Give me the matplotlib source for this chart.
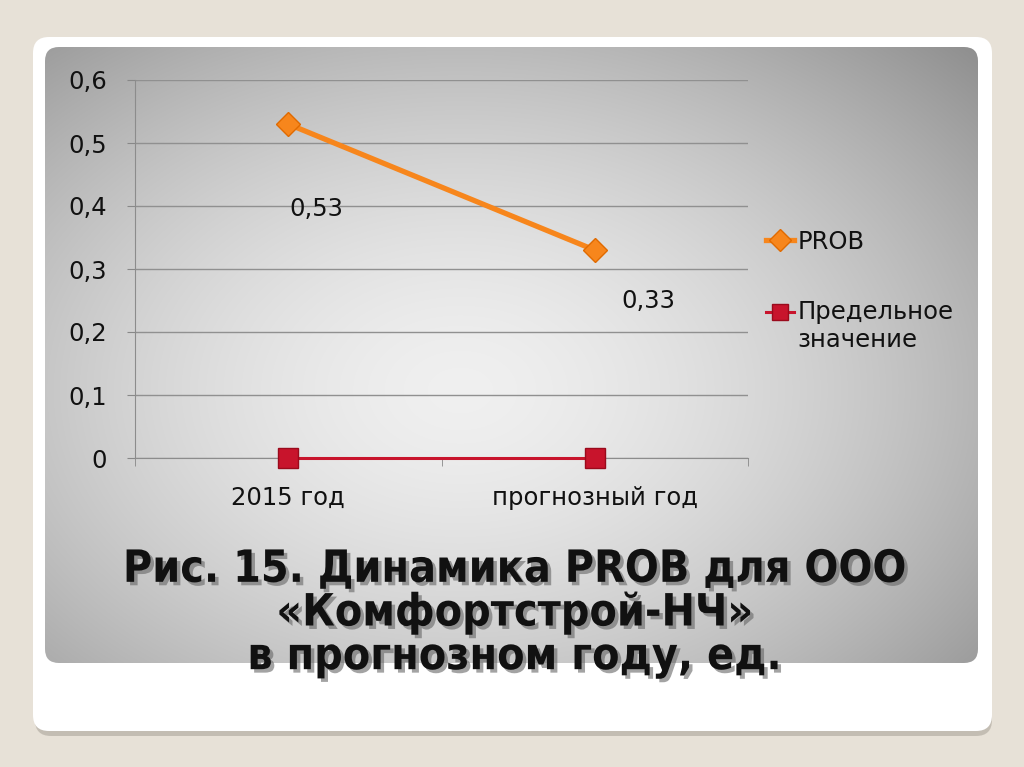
import numpy as np
import matplotlib
matplotlib.use('Agg')
import matplotlib.pyplot as plt
from matplotlib.patches import FancyBboxPatch
from matplotlib.lines import Line2D
import matplotlib.patheffects as pe

# ---------------------------------------------------------
# данные
# ---------------------------------------------------------
categories = ['2015 год', 'прогнозный год']
prob_values = [0.53, 0.33]
limit_values = [0.0, 0.0]
prob_labels = ['0,53', '0,33']
y_ticks = [0, 0.1, 0.2, 0.3, 0.4, 0.5, 0.6]
y_tick_labels = ['0', '0,1', '0,2', '0,3', '0,4', '0,5', '0,6']
series_names = ['PROB', 'Предельное\nзначение']
title_lines = 'Рис. 15. Динамика PROB для ООО\n«Комфортстрой-НЧ»\nв прогнозном году, ед.'

ORANGE = '#f7861c'
RED = '#c8142c'
W, H = 1024, 767

plt.rcParams['font.family'] = ['DejaVu Sans']

fig = plt.figure(figsize=(W / 100, H / 100), dpi=100)
fig.patch.set_facecolor('#e7e1d7')

# фон слайда в пикселях
bg = fig.add_axes([0, 0, 1, 1])
bg.set_xlim(0, W)
bg.set_ylim(H, 0)
bg.axis('off')

# тень и белая рамка
bg.add_patch(FancyBboxPatch((35, 41), 957, 695, boxstyle='round,pad=0,rounding_size=16',
                            fc='#b5afa5', ec='none', alpha=0.7))
bg.add_patch(FancyBboxPatch((33, 37), 959, 694, boxstyle='round,pad=0,rounding_size=16',
                            fc='white', ec='none'))

# серая панель с радиальным градиентом
yy, xx = np.mgrid[47:664, 45:978]
r = np.hypot((xx - 460) / 600.0, (yy - 390) / 420.0)
shade = np.clip(0.94 - 0.29 * r ** 1.6, 0, 1)
img = np.dstack([shade, shade, shade])
panel = FancyBboxPatch((45, 47), 933, 616, boxstyle='round,pad=0,rounding_size=14',
                       fc='none', ec='none')
bg.add_patch(panel)
im = bg.imshow(img, extent=(45, 978, 664, 47), interpolation='bilinear', zorder=1)
im.set_clip_path(panel)

# ---------------------------------------------------------
# график
# ---------------------------------------------------------
ax = fig.add_axes([135 / W, 1 - 458 / H, 613 / W, 378 / H])
ax.patch.set_alpha(0)
x = np.arange(len(categories))

ax.plot(x, prob_values, color=ORANGE, lw=3.8, marker='D', ms=12,
        mfc=ORANGE, mec='#e06a00', mew=1, zorder=4, solid_capstyle='round')
ax.plot(x, limit_values, color=RED, lw=2.2, marker='s', ms=15,
        mfc=RED, mec='#9a0a1c', mew=1, zorder=4, clip_on=False)

# подписи значений: первая под точкой, вторая справа-снизу
label_offsets = [(1, -61), (19, -37)]
for xi, yi, lab, off in zip(x, prob_values, prob_labels, label_offsets):
    ax.annotate(lab, (xi, yi), xytext=off, textcoords='offset points',
                fontsize=17.5, color='#111111', ha='left', va='center')

ax.set_xlim(-0.5, 1.5)
ax.set_ylim(0, 0.6)
ax.set_yticks(y_ticks)
ax.set_yticklabels(y_tick_labels, fontsize=17.5, color='#111111')
ax.set_xticks(x)
ax.set_xticklabels(categories, fontsize=17.5, color='#111111')
ax.set_xticks([-0.5, 0.5, 1.5], minor=True)
ax.tick_params(axis='x', which='major', length=0, pad=20)
ax.tick_params(axis='x', which='minor', length=6, color='#888888', direction='out')
ax.tick_params(axis='y', length=6, color='#888888', pad=14)
ax.grid(axis='y', color='#909090', lw=1)
ax.set_axisbelow(True)
for s in ['top', 'right']:
    ax.spines[s].set_visible(False)
ax.spines['left'].set_color('#8c8c8c')
ax.spines['bottom'].set_color('#8c8c8c')

handles = [
    Line2D([], [], color=ORANGE, lw=3.8, marker='D', ms=11, mfc=ORANGE, mec='#e06a00'),
    Line2D([], [], color=RED, lw=2.2, marker='s', ms=12, mfc=RED, mec='#9a0a1c'),
]
leg = fig.legend(handles, series_names, loc='upper left',
                 bbox_to_anchor=(744 / W, 1 - 208 / H),
                 frameon=False, fontsize=17.5, handlelength=1.15, handletextpad=0.15,
                 labelspacing=1.9, labelcolor='#111111')

# маркер второй записи — на уровне первой строки подписи
rows = leg._legend_handle_box.get_children()[0].get_children()
for child in rows[1].get_children()[0].get_children():
    child.set_ydata(np.asarray(child.get_ydata()) + 11)

# подпись рисунка
fig.text(515 / W, 1 - 613 / H, title_lines, ha='center', va='center',
         fontsize=32, fontweight='bold', stretch='condensed', color='#111111',
         linespacing=1.02,
         path_effects=[pe.withSimplePatchShadow(offset=(2.5, -2.5), shadow_rgbFace='#666666', alpha=0.6)])

fig.savefig('out.png', dpi=100, facecolor=fig.get_facecolor())
